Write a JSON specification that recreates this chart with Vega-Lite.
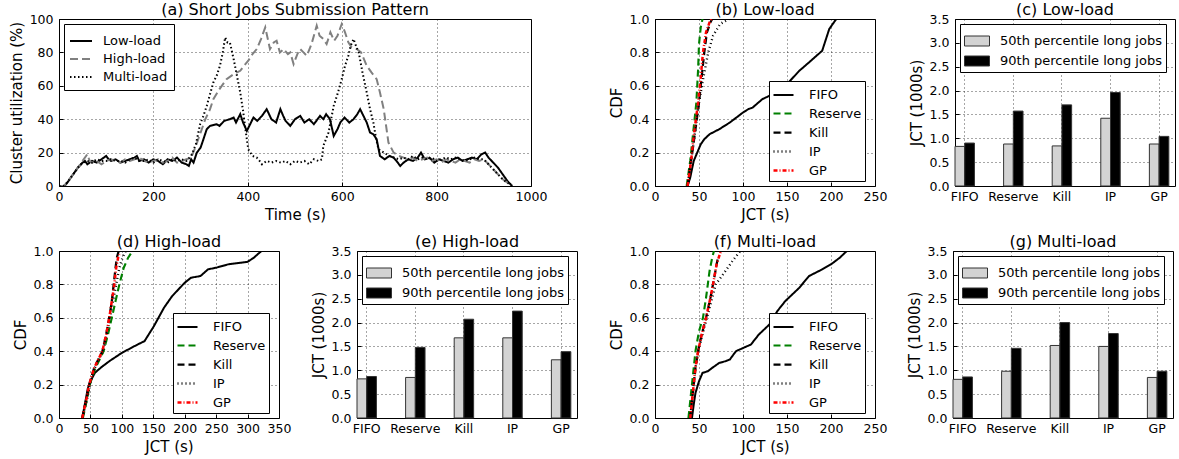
{
"$schema":"https://vega.github.io/schema/vega-lite/v6.json",
"background":"white",
"padding":{"left":8,"top":1,"right":0,"bottom":0},
"config":{
 "font":"DejaVu Sans",
 "view":{"stroke":"black","strokeWidth":1},
 "axis":{"domain":false,"labelFontSize":12.5,"labelColor":"black","titleFontSize":15,"titleFontWeight":"normal","titleColor":"black","grid":true,"gridColor":"black","gridDash":[1,3],"gridOpacity":0.7,"tickColor":"black","tickSize":-4,"labelFlush":false,"labelOverlap":false},
 "axisX":{"labelPadding":8,"titlePadding":5},
 "axisY":{"labelPadding":10,"titlePadding":5},
 "title":{"fontSize":16,"fontWeight":"normal","offset":-5,"color":"black","frame":"group"},
 "legend":{"labelFontSize":13,"labelColor":"black","strokeColor":"black","fillColor":"white","cornerRadius":0,"labelLimit":300}
},
"datasets":{
 "util":[
{"g":"Low-load","t":0,"u":0},{"g":"Low-load","t":10,"u":0},{"g":"Low-load","t":15,"u":1},{"g":"Low-load","t":20,"u":3},{"g":"Low-load","t":30,"u":7},{"g":"Low-load","t":40,"u":11},{"g":"Low-load","t":50,"u":14},{"g":"Low-load","t":55,"u":15},{"g":"Low-load","t":60,"u":13},{"g":"Low-load","t":70,"u":15},{"g":"Low-load","t":80,"u":14},{"g":"Low-load","t":90,"u":16},{"g":"Low-load","t":100,"u":18},{"g":"Low-load","t":105,"u":16},{"g":"Low-load","t":110,"u":15},{"g":"Low-load","t":120,"u":16},{"g":"Low-load","t":130,"u":14},{"g":"Low-load","t":140,"u":15},{"g":"Low-load","t":150,"u":16},{"g":"Low-load","t":160,"u":17},{"g":"Low-load","t":165,"u":18},{"g":"Low-load","t":170,"u":15},{"g":"Low-load","t":180,"u":16},{"g":"Low-load","t":190,"u":14},{"g":"Low-load","t":200,"u":16},{"g":"Low-load","t":210,"u":15},{"g":"Low-load","t":220,"u":13},{"g":"Low-load","t":230,"u":16},{"g":"Low-load","t":240,"u":15},{"g":"Low-load","t":250,"u":17},{"g":"Low-load","t":260,"u":14},{"g":"Low-load","t":270,"u":13},{"g":"Low-load","t":275,"u":12},{"g":"Low-load","t":280,"u":16},{"g":"Low-load","t":285,"u":14},{"g":"Low-load","t":292,"u":20},{"g":"Low-load","t":300,"u":23},{"g":"Low-load","t":306,"u":28},{"g":"Low-load","t":313,"u":34},{"g":"Low-load","t":320,"u":36},{"g":"Low-load","t":334,"u":37},{"g":"Low-load","t":340,"u":36},{"g":"Low-load","t":350,"u":39},{"g":"Low-load","t":362,"u":40},{"g":"Low-load","t":370,"u":41},{"g":"Low-load","t":375,"u":38},{"g":"Low-load","t":384,"u":43},{"g":"Low-load","t":390,"u":38},{"g":"Low-load","t":398,"u":33},{"g":"Low-load","t":405,"u":37},{"g":"Low-load","t":412,"u":41},{"g":"Low-load","t":420,"u":39},{"g":"Low-load","t":430,"u":42},{"g":"Low-load","t":440,"u":46},{"g":"Low-load","t":450,"u":40},{"g":"Low-load","t":460,"u":38},{"g":"Low-load","t":469,"u":46},{"g":"Low-load","t":475,"u":42},{"g":"Low-load","t":480,"u":39},{"g":"Low-load","t":490,"u":36},{"g":"Low-load","t":500,"u":40},{"g":"Low-load","t":511,"u":42},{"g":"Low-load","t":520,"u":38},{"g":"Low-load","t":530,"u":40},{"g":"Low-load","t":540,"u":37},{"g":"Low-load","t":553,"u":42},{"g":"Low-load","t":560,"u":40},{"g":"Low-load","t":566,"u":43},{"g":"Low-load","t":574,"u":40},{"g":"Low-load","t":582,"u":30},{"g":"Low-load","t":590,"u":34},{"g":"Low-load","t":596,"u":38},{"g":"Low-load","t":605,"u":41},{"g":"Low-load","t":615,"u":38},{"g":"Low-load","t":624,"u":40},{"g":"Low-load","t":632,"u":43},{"g":"Low-load","t":638,"u":46},{"g":"Low-load","t":645,"u":42},{"g":"Low-load","t":652,"u":38},{"g":"Low-load","t":659,"u":32},{"g":"Low-load","t":666,"u":31},{"g":"Low-load","t":673,"u":28},{"g":"Low-load","t":680,"u":18},{"g":"Low-load","t":690,"u":16},{"g":"Low-load","t":700,"u":18},{"g":"Low-load","t":709,"u":17},{"g":"Low-load","t":715,"u":15},{"g":"Low-load","t":723,"u":12},{"g":"Low-load","t":730,"u":14},{"g":"Low-load","t":740,"u":16},{"g":"Low-load","t":750,"u":15},{"g":"Low-load","t":760,"u":17},{"g":"Low-load","t":767,"u":20},{"g":"Low-load","t":775,"u":16},{"g":"Low-load","t":785,"u":17},{"g":"Low-load","t":795,"u":14},{"g":"Low-load","t":805,"u":16},{"g":"Low-load","t":815,"u":15},{"g":"Low-load","t":825,"u":14},{"g":"Low-load","t":835,"u":16},{"g":"Low-load","t":845,"u":17},{"g":"Low-load","t":855,"u":15},{"g":"Low-load","t":865,"u":16},{"g":"Low-load","t":875,"u":17},{"g":"Low-load","t":885,"u":16},{"g":"Low-load","t":895,"u":19},{"g":"Low-load","t":903,"u":20},{"g":"Low-load","t":910,"u":17},{"g":"Low-load","t":920,"u":14},{"g":"Low-load","t":930,"u":11},{"g":"Low-load","t":940,"u":7},{"g":"Low-load","t":950,"u":3},{"g":"Low-load","t":960,"u":0},
{"g":"High-load","t":0,"u":0},{"g":"High-load","t":10,"u":0},{"g":"High-load","t":20,"u":3},{"g":"High-load","t":30,"u":7},{"g":"High-load","t":40,"u":11},{"g":"High-load","t":50,"u":15},{"g":"High-load","t":60,"u":19},{"g":"High-load","t":65,"u":15},{"g":"High-load","t":70,"u":14},{"g":"High-load","t":80,"u":15},{"g":"High-load","t":90,"u":13},{"g":"High-load","t":100,"u":15},{"g":"High-load","t":110,"u":16},{"g":"High-load","t":120,"u":15},{"g":"High-load","t":130,"u":14},{"g":"High-load","t":140,"u":16},{"g":"High-load","t":150,"u":15},{"g":"High-load","t":160,"u":16},{"g":"High-load","t":170,"u":17},{"g":"High-load","t":180,"u":15},{"g":"High-load","t":190,"u":14},{"g":"High-load","t":200,"u":15},{"g":"High-load","t":210,"u":16},{"g":"High-load","t":220,"u":14},{"g":"High-load","t":230,"u":15},{"g":"High-load","t":240,"u":17},{"g":"High-load","t":250,"u":14},{"g":"High-load","t":260,"u":15},{"g":"High-load","t":270,"u":16},{"g":"High-load","t":280,"u":17},{"g":"High-load","t":290,"u":24},{"g":"High-load","t":300,"u":32},{"g":"High-load","t":310,"u":40},{"g":"High-load","t":320,"u":46},{"g":"High-load","t":327,"u":52},{"g":"High-load","t":340,"u":58},{"g":"High-load","t":355,"u":64},{"g":"High-load","t":370,"u":67},{"g":"High-load","t":384,"u":69},{"g":"High-load","t":392,"u":72},{"g":"High-load","t":401,"u":75},{"g":"High-load","t":410,"u":79},{"g":"High-load","t":419,"u":82},{"g":"High-load","t":428,"u":88},{"g":"High-load","t":437,"u":95},{"g":"High-load","t":447,"u":82},{"g":"High-load","t":455,"u":86},{"g":"High-load","t":461,"u":87},{"g":"High-load","t":468,"u":80},{"g":"High-load","t":476,"u":82},{"g":"High-load","t":485,"u":79},{"g":"High-load","t":490,"u":80},{"g":"High-load","t":497,"u":73},{"g":"High-load","t":505,"u":79},{"g":"High-load","t":511,"u":82},{"g":"High-load","t":518,"u":80},{"g":"High-load","t":525,"u":78},{"g":"High-load","t":535,"u":85},{"g":"High-load","t":546,"u":96},{"g":"High-load","t":552,"u":90},{"g":"High-load","t":560,"u":88},{"g":"High-load","t":567,"u":85},{"g":"High-load","t":575,"u":92},{"g":"High-load","t":583,"u":87},{"g":"High-load","t":590,"u":90},{"g":"High-load","t":599,"u":97},{"g":"High-load","t":606,"u":92},{"g":"High-load","t":613,"u":86},{"g":"High-load","t":620,"u":83},{"g":"High-load","t":631,"u":82},{"g":"High-load","t":640,"u":80},{"g":"High-load","t":652,"u":72},{"g":"High-load","t":662,"u":68},{"g":"High-load","t":673,"u":64},{"g":"High-load","t":680,"u":56},{"g":"High-load","t":688,"u":46},{"g":"High-load","t":698,"u":26},{"g":"High-load","t":709,"u":20},{"g":"High-load","t":720,"u":18},{"g":"High-load","t":730,"u":17},{"g":"High-load","t":740,"u":16},{"g":"High-load","t":750,"u":17},{"g":"High-load","t":760,"u":15},{"g":"High-load","t":770,"u":16},{"g":"High-load","t":780,"u":17},{"g":"High-load","t":790,"u":15},{"g":"High-load","t":800,"u":16},{"g":"High-load","t":810,"u":14},{"g":"High-load","t":820,"u":16},{"g":"High-load","t":830,"u":15},{"g":"High-load","t":840,"u":14},{"g":"High-load","t":850,"u":16},{"g":"High-load","t":860,"u":15},{"g":"High-load","t":870,"u":14},{"g":"High-load","t":880,"u":16},{"g":"High-load","t":890,"u":15},{"g":"High-load","t":900,"u":16},{"g":"High-load","t":910,"u":13},{"g":"High-load","t":920,"u":10},{"g":"High-load","t":930,"u":7},{"g":"High-load","t":940,"u":4},{"g":"High-load","t":950,"u":2},{"g":"High-load","t":960,"u":0},
{"g":"Multi-load","t":0,"u":0},{"g":"Multi-load","t":10,"u":0},{"g":"Multi-load","t":20,"u":3},{"g":"Multi-load","t":30,"u":7},{"g":"Multi-load","t":40,"u":11},{"g":"Multi-load","t":50,"u":14},{"g":"Multi-load","t":60,"u":15},{"g":"Multi-load","t":70,"u":14},{"g":"Multi-load","t":80,"u":16},{"g":"Multi-load","t":90,"u":15},{"g":"Multi-load","t":100,"u":15},{"g":"Multi-load","t":110,"u":16},{"g":"Multi-load","t":120,"u":15},{"g":"Multi-load","t":130,"u":15},{"g":"Multi-load","t":140,"u":14},{"g":"Multi-load","t":150,"u":16},{"g":"Multi-load","t":160,"u":17},{"g":"Multi-load","t":170,"u":15},{"g":"Multi-load","t":180,"u":15},{"g":"Multi-load","t":190,"u":16},{"g":"Multi-load","t":200,"u":14},{"g":"Multi-load","t":210,"u":16},{"g":"Multi-load","t":220,"u":15},{"g":"Multi-load","t":230,"u":14},{"g":"Multi-load","t":240,"u":16},{"g":"Multi-load","t":250,"u":15},{"g":"Multi-load","t":260,"u":16},{"g":"Multi-load","t":270,"u":15},{"g":"Multi-load","t":280,"u":18},{"g":"Multi-load","t":290,"u":25},{"g":"Multi-load","t":299,"u":37},{"g":"Multi-load","t":306,"u":42},{"g":"Multi-load","t":313,"u":48},{"g":"Multi-load","t":320,"u":55},{"g":"Multi-load","t":327,"u":62},{"g":"Multi-load","t":334,"u":66},{"g":"Multi-load","t":341,"u":72},{"g":"Multi-load","t":347,"u":80},{"g":"Multi-load","t":352,"u":89},{"g":"Multi-load","t":357,"u":86},{"g":"Multi-load","t":362,"u":86},{"g":"Multi-load","t":370,"u":76},{"g":"Multi-load","t":377,"u":66},{"g":"Multi-load","t":384,"u":56},{"g":"Multi-load","t":390,"u":45},{"g":"Multi-load","t":394,"u":36},{"g":"Multi-load","t":401,"u":22},{"g":"Multi-load","t":410,"u":18},{"g":"Multi-load","t":419,"u":17},{"g":"Multi-load","t":425,"u":15},{"g":"Multi-load","t":430,"u":13},{"g":"Multi-load","t":440,"u":15},{"g":"Multi-load","t":450,"u":14},{"g":"Multi-load","t":460,"u":15},{"g":"Multi-load","t":470,"u":14},{"g":"Multi-load","t":480,"u":15},{"g":"Multi-load","t":490,"u":13},{"g":"Multi-load","t":500,"u":15},{"g":"Multi-load","t":510,"u":14},{"g":"Multi-load","t":520,"u":15},{"g":"Multi-load","t":530,"u":13},{"g":"Multi-load","t":540,"u":16},{"g":"Multi-load","t":550,"u":15},{"g":"Multi-load","t":557,"u":16},{"g":"Multi-load","t":560,"u":24},{"g":"Multi-load","t":571,"u":32},{"g":"Multi-load","t":582,"u":48},{"g":"Multi-load","t":590,"u":55},{"g":"Multi-load","t":599,"u":64},{"g":"Multi-load","t":606,"u":72},{"g":"Multi-load","t":613,"u":78},{"g":"Multi-load","t":618,"u":84},{"g":"Multi-load","t":624,"u":88},{"g":"Multi-load","t":629,"u":84},{"g":"Multi-load","t":635,"u":80},{"g":"Multi-load","t":643,"u":68},{"g":"Multi-load","t":652,"u":56},{"g":"Multi-load","t":659,"u":46},{"g":"Multi-load","t":666,"u":38},{"g":"Multi-load","t":672,"u":28},{"g":"Multi-load","t":677,"u":22},{"g":"Multi-load","t":688,"u":20},{"g":"Multi-load","t":700,"u":18},{"g":"Multi-load","t":710,"u":17},{"g":"Multi-load","t":720,"u":16},{"g":"Multi-load","t":730,"u":17},{"g":"Multi-load","t":740,"u":16},{"g":"Multi-load","t":750,"u":18},{"g":"Multi-load","t":760,"u":16},{"g":"Multi-load","t":770,"u":17},{"g":"Multi-load","t":780,"u":16},{"g":"Multi-load","t":790,"u":17},{"g":"Multi-load","t":800,"u":15},{"g":"Multi-load","t":810,"u":16},{"g":"Multi-load","t":820,"u":17},{"g":"Multi-load","t":830,"u":16},{"g":"Multi-load","t":840,"u":17},{"g":"Multi-load","t":850,"u":16},{"g":"Multi-load","t":860,"u":15},{"g":"Multi-load","t":870,"u":16},{"g":"Multi-load","t":880,"u":17},{"g":"Multi-load","t":890,"u":16},{"g":"Multi-load","t":900,"u":16},{"g":"Multi-load","t":910,"u":13},{"g":"Multi-load","t":920,"u":10},{"g":"Multi-load","t":930,"u":7},{"g":"Multi-load","t":940,"u":4},{"g":"Multi-load","t":950,"u":2},{"g":"Multi-load","t":960,"u":0}
 ],
 "cdfLow":[
{"p":"FIFO","x":37,"c":0},{"p":"FIFO","x":40,"c":0.05},{"p":"FIFO","x":44,"c":0.15},{"p":"FIFO","x":48,"c":0.2},{"p":"FIFO","x":52,"c":0.25},{"p":"FIFO","x":56,"c":0.28},{"p":"FIFO","x":62,"c":0.31},{"p":"FIFO","x":73,"c":0.34},{"p":"FIFO","x":85,"c":0.38},{"p":"FIFO","x":100,"c":0.44},{"p":"FIFO","x":106,"c":0.46},{"p":"FIFO","x":111,"c":0.47},{"p":"FIFO","x":122,"c":0.52},{"p":"FIFO","x":134,"c":0.55},{"p":"FIFO","x":150,"c":0.61},{"p":"FIFO","x":164,"c":0.69},{"p":"FIFO","x":175,"c":0.74},{"p":"FIFO","x":190,"c":0.81},{"p":"FIFO","x":198,"c":0.94},{"p":"FIFO","x":206,"c":1.0},
{"p":"Reserve","x":36,"c":0},{"p":"Reserve","x":40,"c":0.15},{"p":"Reserve","x":43,"c":0.3},{"p":"Reserve","x":47,"c":0.5},{"p":"Reserve","x":49,"c":0.7},{"p":"Reserve","x":50,"c":0.85},{"p":"Reserve","x":52,"c":0.95},{"p":"Reserve","x":54,"c":1.0},
{"p":"Kill","x":37,"c":0},{"p":"Kill","x":41,"c":0.15},{"p":"Kill","x":45,"c":0.3},{"p":"Kill","x":50,"c":0.5},{"p":"Kill","x":53,"c":0.65},{"p":"Kill","x":56,"c":0.8},{"p":"Kill","x":59,"c":0.92},{"p":"Kill","x":63,"c":0.98},{"p":"Kill","x":65,"c":1.0},
{"p":"IP","x":37,"c":0},{"p":"IP","x":41,"c":0.15},{"p":"IP","x":45,"c":0.3},{"p":"IP","x":50,"c":0.5},{"p":"IP","x":55,"c":0.65},{"p":"IP","x":60.5,"c":0.8},{"p":"IP","x":66,"c":0.9},{"p":"IP","x":74,"c":0.97},{"p":"IP","x":84,"c":1.0},
{"p":"GP","x":37,"c":0},{"p":"GP","x":41,"c":0.15},{"p":"GP","x":44,"c":0.3},{"p":"GP","x":49,"c":0.5},{"p":"GP","x":52,"c":0.65},{"p":"GP","x":54.5,"c":0.8},{"p":"GP","x":58,"c":0.92},{"p":"GP","x":62,"c":0.98},{"p":"GP","x":64,"c":1.0}
 ],
 "cdfHigh":[
{"p":"FIFO","x":37,"c":0},{"p":"FIFO","x":42,"c":0.1},{"p":"FIFO","x":46,"c":0.18},{"p":"FIFO","x":50,"c":0.22},{"p":"FIFO","x":57,"c":0.27},{"p":"FIFO","x":66,"c":0.3},{"p":"FIFO","x":80,"c":0.34},{"p":"FIFO","x":100,"c":0.39},{"p":"FIFO","x":115,"c":0.42},{"p":"FIFO","x":125,"c":0.44},{"p":"FIFO","x":136,"c":0.46},{"p":"FIFO","x":151,"c":0.55},{"p":"FIFO","x":167,"c":0.66},{"p":"FIFO","x":180,"c":0.73},{"p":"FIFO","x":200,"c":0.81},{"p":"FIFO","x":210,"c":0.84},{"p":"FIFO","x":225,"c":0.85},{"p":"FIFO","x":237,"c":0.89},{"p":"FIFO","x":250,"c":0.9},{"p":"FIFO","x":269,"c":0.92},{"p":"FIFO","x":290,"c":0.93},{"p":"FIFO","x":300,"c":0.935},{"p":"FIFO","x":310,"c":0.96},{"p":"FIFO","x":322,"c":1.0},
{"p":"Reserve","x":38,"c":0},{"p":"Reserve","x":45,"c":0.12},{"p":"Reserve","x":49,"c":0.2},{"p":"Reserve","x":58,"c":0.3},{"p":"Reserve","x":71,"c":0.4},{"p":"Reserve","x":78,"c":0.5},{"p":"Reserve","x":84,"c":0.6},{"p":"Reserve","x":90,"c":0.7},{"p":"Reserve","x":96,"c":0.8},{"p":"Reserve","x":103,"c":0.9},{"p":"Reserve","x":110,"c":0.96},{"p":"Reserve","x":117,"c":1.0},
{"p":"Kill","x":37,"c":0},{"p":"Kill","x":44,"c":0.12},{"p":"Kill","x":48,"c":0.2},{"p":"Kill","x":56,"c":0.3},{"p":"Kill","x":69,"c":0.4},{"p":"Kill","x":75,"c":0.5},{"p":"Kill","x":80,"c":0.6},{"p":"Kill","x":84,"c":0.7},{"p":"Kill","x":87,"c":0.8},{"p":"Kill","x":90,"c":0.9},{"p":"Kill","x":92,"c":0.96},{"p":"Kill","x":95,"c":1.0},
{"p":"IP","x":37,"c":0},{"p":"IP","x":45,"c":0.12},{"p":"IP","x":49,"c":0.2},{"p":"IP","x":57,"c":0.3},{"p":"IP","x":70,"c":0.4},{"p":"IP","x":76,"c":0.5},{"p":"IP","x":81,"c":0.6},{"p":"IP","x":86,"c":0.7},{"p":"IP","x":91,"c":0.8},{"p":"IP","x":96,"c":0.9},{"p":"IP","x":101,"c":0.96},{"p":"IP","x":106,"c":1.0},
{"p":"GP","x":37,"c":0},{"p":"GP","x":44,"c":0.12},{"p":"GP","x":48,"c":0.2},{"p":"GP","x":56,"c":0.3},{"p":"GP","x":69,"c":0.4},{"p":"GP","x":75,"c":0.5},{"p":"GP","x":80,"c":0.6},{"p":"GP","x":84,"c":0.7},{"p":"GP","x":88,"c":0.8},{"p":"GP","x":91,"c":0.9},{"p":"GP","x":94,"c":0.96},{"p":"GP","x":96,"c":0.98}
 ],
 "cdfMulti":[
{"p":"FIFO","x":42,"c":0},{"p":"FIFO","x":44,"c":0.08},{"p":"FIFO","x":46,"c":0.15},{"p":"FIFO","x":50,"c":0.22},{"p":"FIFO","x":54,"c":0.27},{"p":"FIFO","x":60,"c":0.28},{"p":"FIFO","x":65,"c":0.3},{"p":"FIFO","x":73,"c":0.33},{"p":"FIFO","x":80,"c":0.34},{"p":"FIFO","x":85,"c":0.35},{"p":"FIFO","x":92,"c":0.4},{"p":"FIFO","x":109,"c":0.44},{"p":"FIFO","x":118,"c":0.5},{"p":"FIFO","x":130,"c":0.56},{"p":"FIFO","x":139,"c":0.64},{"p":"FIFO","x":148,"c":0.7},{"p":"FIFO","x":164,"c":0.78},{"p":"FIFO","x":175,"c":0.85},{"p":"FIFO","x":190,"c":0.89},{"p":"FIFO","x":200,"c":0.92},{"p":"FIFO","x":210,"c":0.96},{"p":"FIFO","x":218,"c":1.0},
{"p":"Reserve","x":38,"c":0},{"p":"Reserve","x":41,"c":0.15},{"p":"Reserve","x":44,"c":0.3},{"p":"Reserve","x":46,"c":0.4},{"p":"Reserve","x":50,"c":0.52},{"p":"Reserve","x":54.5,"c":0.6},{"p":"Reserve","x":58,"c":0.72},{"p":"Reserve","x":62,"c":0.88},{"p":"Reserve","x":65,"c":0.96},{"p":"Reserve","x":67,"c":1.0},
{"p":"Kill","x":40,"c":0},{"p":"Kill","x":43,"c":0.15},{"p":"Kill","x":46,"c":0.3},{"p":"Kill","x":49,"c":0.4},{"p":"Kill","x":53,"c":0.5},{"p":"Kill","x":58,"c":0.6},{"p":"Kill","x":63,"c":0.72},{"p":"Kill","x":67,"c":0.83},{"p":"Kill","x":70,"c":0.92},{"p":"Kill","x":72,"c":0.97},
{"p":"IP","x":40,"c":0},{"p":"IP","x":43,"c":0.15},{"p":"IP","x":46,"c":0.3},{"p":"IP","x":49,"c":0.4},{"p":"IP","x":54,"c":0.5},{"p":"IP","x":59,"c":0.6},{"p":"IP","x":64,"c":0.7},{"p":"IP","x":69,"c":0.8},{"p":"IP","x":80,"c":0.88},{"p":"IP","x":88,"c":0.94},{"p":"IP","x":97,"c":1.0},
{"p":"GP","x":40,"c":0},{"p":"GP","x":43,"c":0.15},{"p":"GP","x":46,"c":0.3},{"p":"GP","x":49,"c":0.4},{"p":"GP","x":53,"c":0.5},{"p":"GP","x":58,"c":0.6},{"p":"GP","x":63,"c":0.72},{"p":"GP","x":67,"c":0.83},{"p":"GP","x":70,"c":0.92},{"p":"GP","x":73,"c":0.97},{"p":"GP","x":75,"c":1.0}
 ],
 "barLow":[
{"m":"FIFO","s":"50th percentile long jobs","v":0.83},{"m":"FIFO","s":"90th percentile long jobs","v":0.9},
{"m":"Reserve","s":"50th percentile long jobs","v":0.88},{"m":"Reserve","s":"90th percentile long jobs","v":1.57},
{"m":"Kill","s":"50th percentile long jobs","v":0.84},{"m":"Kill","s":"90th percentile long jobs","v":1.7},
{"m":"IP","s":"50th percentile long jobs","v":1.42},{"m":"IP","s":"90th percentile long jobs","v":1.96},
{"m":"GP","s":"50th percentile long jobs","v":0.88},{"m":"GP","s":"90th percentile long jobs","v":1.04}
 ],
 "barHigh":[
{"m":"FIFO","s":"50th percentile long jobs","v":0.82},{"m":"FIFO","s":"90th percentile long jobs","v":0.87},
{"m":"Reserve","s":"50th percentile long jobs","v":0.85},{"m":"Reserve","s":"90th percentile long jobs","v":1.48},
{"m":"Kill","s":"50th percentile long jobs","v":1.68},{"m":"Kill","s":"90th percentile long jobs","v":2.07},
{"m":"IP","s":"50th percentile long jobs","v":1.68},{"m":"IP","s":"90th percentile long jobs","v":2.24},
{"m":"GP","s":"50th percentile long jobs","v":1.22},{"m":"GP","s":"90th percentile long jobs","v":1.39}
 ],
 "barMulti":[
{"m":"FIFO","s":"50th percentile long jobs","v":0.81},{"m":"FIFO","s":"90th percentile long jobs","v":0.86},
{"m":"Reserve","s":"50th percentile long jobs","v":0.98},{"m":"Reserve","s":"90th percentile long jobs","v":1.46},
{"m":"Kill","s":"50th percentile long jobs","v":1.52},{"m":"Kill","s":"90th percentile long jobs","v":2.0},
{"m":"IP","s":"50th percentile long jobs","v":1.5},{"m":"IP","s":"90th percentile long jobs","v":1.77},
{"m":"GP","s":"50th percentile long jobs","v":0.85},{"m":"GP","s":"90th percentile long jobs","v":0.98}
 ]
},
"spacing":10,
"resolve":{"scale":{"color":"independent","strokeDash":"independent","strokeWidth":"independent","fill":"independent"},"legend":{"color":"independent","strokeDash":"independent","strokeWidth":"independent","fill":"independent"}},
"vconcat":[
{
 "bounds":"flush","spacing":30,
 "resolve":{"scale":{"color":"independent","strokeDash":"independent","strokeWidth":"independent","fill":"independent"},"legend":{"color":"independent","strokeDash":"independent","strokeWidth":"independent","fill":"independent"}},
 "hconcat":[
 {
  "width":472,"height":167,"title":"(a) Short Jobs Submission Pattern",
  "data":{"name":"util"},
  "mark":{"type":"line","clip":true},
  "encoding":{
   "x":{"field":"t","type":"quantitative","scale":{"domain":[0,1000],"nice":false},"axis":{"values":[0,200,400,600,800,1000],"format":"d","title":"Time (s)"}},
   "y":{"field":"u","type":"quantitative","scale":{"domain":[0,100],"nice":false},"axis":{"values":[0,20,40,60,80,100],"title":"Cluster utilization (%)"}},
   "color":{"field":"g","type":"nominal","scale":{"domain":["Low-load","High-load","Multi-load"],"range":["black","#808080","black"]},"legend":{"title":null,"orient":"top-left","offset":5,"symbolType":"M-1.1,0H1.1","symbolSize":400,"labelOffset":11,"padding":6,"rowPadding":0}},
   "strokeDash":{"field":"g","type":"nominal","scale":{"domain":["Low-load","High-load","Multi-load"],"range":[[1,0],[8,4],[1.5,2.5]]},"legend":{"title":null,"orient":"top-left","offset":5,"symbolType":"M-1.1,0H1.1","symbolSize":400,"labelOffset":11,"padding":6,"rowPadding":0}},
   "strokeWidth":{"field":"g","type":"nominal","scale":{"domain":["Low-load","High-load","Multi-load"],"range":[2,2,1.5]},"legend":{"title":null,"orient":"top-left","offset":5,"symbolType":"M-1.1,0H1.1","symbolSize":400,"labelOffset":11,"padding":6,"rowPadding":0}}
  }
 },
 {"width":64,"height":167,"view":{"stroke":null},"data":{"values":[{"a":0}]},"mark":{"type":"point","opacity":0},"encoding":{}},
 {
  "width":220,"height":167,"title":"(b) Low-load",
  "data":{"name":"cdfLow"},
  "mark":{"type":"line","clip":true},
  "encoding":{
   "x":{"field":"x","type":"quantitative","scale":{"domain":[0,250],"nice":false},"axis":{"values":[0,50,100,150,200,250],"title":"JCT (s)"}},
   "y":{"field":"c","type":"quantitative","scale":{"domain":[0,1],"nice":false},"axis":{"values":[0,0.2,0.4,0.6,0.8,1],"format":".1f","title":"CDF"}},
   "color":{"field":"p","type":"nominal","scale":{"domain":["FIFO","Reserve","Kill","IP","GP"],"range":["black","#008000","black","black","#ff0000"]},"legend":{"title":null,"orient":"none","legendX":114,"legendY":62,"symbolType":"stroke","symbolSize":400,"labelOffset":14,"padding":3,"rowPadding":0}},
   "strokeDash":{"field":"p","type":"nominal","scale":{"domain":["FIFO","Reserve","Kill","IP","GP"],"range":[[1,0],[7,4],[7,4],[1,3],[4,2,1,2]]},"legend":{"title":null,"orient":"none","legendX":114,"legendY":62,"symbolType":"stroke","symbolSize":400,"labelOffset":14,"padding":3,"rowPadding":0}},
   "strokeWidth":{"field":"p","type":"nominal","scale":{"domain":["FIFO","Reserve","Kill","IP","GP"],"range":[2,2.5,2,1.3,2]},"legend":{"title":null,"orient":"none","legendX":114,"legendY":62,"symbolType":"stroke","symbolSize":400,"labelOffset":14,"padding":3,"rowPadding":0}}
  }
 },
 {"width":20,"height":167,"view":{"stroke":null},"data":{"values":[{"a":0}]},"mark":{"type":"point","opacity":0},"encoding":{}},
 {
  "width":220,"height":167,"title":"(c) Low-load",
  "data":{"name":"barLow"},
  "mark":{"type":"bar","stroke":"#333","strokeWidth":1},
  "encoding":{
   "x":{"field":"m","type":"nominal","sort":["FIFO","Reserve","Kill","IP","GP"],"scale":{"paddingInner":0.6,"paddingOuter":0.0635,"align":0},"axis":{"title":null,"labelAngle":0,"bandPosition":0.5}},
   "xOffset":{"field":"s","type":"nominal","scale":{"paddingInner":0,"paddingOuter":0}},
   "y":{"field":"v","type":"quantitative","scale":{"domain":[0,3.5],"nice":false},"axis":{"values":[0,0.5,1,1.5,2,2.5,3,3.5],"format":".1f","title":"JCT (1000s)"}},
   "fill":{"field":"s","type":"nominal","scale":{"domain":["50th percentile long jobs","90th percentile long jobs"],"range":["#d3d3d3","black"]},"legend":{"title":null,"orient":"top-left","offset":5,"symbolType":"M-1,-0.4H1V0.4H-1Z","symbolSize":625,"symbolStrokeColor":"#333","symbolStrokeWidth":1,"labelOffset":10,"padding":4,"rowPadding":-3}}
  }
 }
 ]
},
{
 "bounds":"flush","spacing":78,
 "resolve":{"scale":{"color":"independent","strokeDash":"independent","strokeWidth":"independent","fill":"independent"},"legend":{"color":"independent","strokeDash":"independent","strokeWidth":"independent","fill":"independent"}},
 "hconcat":[
 {
  "width":220,"height":167,"title":"(d) High-load",
  "data":{"name":"cdfHigh"},
  "mark":{"type":"line","clip":true},
  "encoding":{
   "x":{"field":"x","type":"quantitative","scale":{"domain":[0,350],"nice":false},"axis":{"values":[0,50,100,150,200,250,300,350],"title":"JCT (s)"}},
   "y":{"field":"c","type":"quantitative","scale":{"domain":[0,1],"nice":false},"axis":{"values":[0,0.2,0.4,0.6,0.8,1],"format":".1f","title":"CDF"}},
   "color":{"field":"p","type":"nominal","scale":{"domain":["FIFO","Reserve","Kill","IP","GP"],"range":["black","#008000","black","black","#ff0000"]},"legend":{"title":null,"orient":"none","legendX":114,"legendY":62,"symbolType":"stroke","symbolSize":400,"labelOffset":14,"padding":3,"rowPadding":0}},
   "strokeDash":{"field":"p","type":"nominal","scale":{"domain":["FIFO","Reserve","Kill","IP","GP"],"range":[[1,0],[7,4],[7,4],[1,3],[4,2,1,2]]},"legend":{"title":null,"orient":"none","legendX":114,"legendY":62,"symbolType":"stroke","symbolSize":400,"labelOffset":14,"padding":3,"rowPadding":0}},
   "strokeWidth":{"field":"p","type":"nominal","scale":{"domain":["FIFO","Reserve","Kill","IP","GP"],"range":[2,2.5,2,1.3,2]},"legend":{"title":null,"orient":"none","legendX":114,"legendY":62,"symbolType":"stroke","symbolSize":400,"labelOffset":14,"padding":3,"rowPadding":0}}
  }
 },
 {
  "width":220,"height":167,"title":"(e) High-load",
  "data":{"name":"barHigh"},
  "mark":{"type":"bar","stroke":"#333","strokeWidth":1},
  "encoding":{
   "x":{"field":"m","type":"nominal","sort":["FIFO","Reserve","Kill","IP","GP"],"scale":{"paddingInner":0.6,"paddingOuter":0.0635,"align":0},"axis":{"title":null,"labelAngle":0,"bandPosition":0.5}},
   "xOffset":{"field":"s","type":"nominal","scale":{"paddingInner":0,"paddingOuter":0}},
   "y":{"field":"v","type":"quantitative","scale":{"domain":[0,3.5],"nice":false},"axis":{"values":[0,0.5,1,1.5,2,2.5,3,3.5],"format":".1f","title":"JCT (1000s)"}},
   "fill":{"field":"s","type":"nominal","scale":{"domain":["50th percentile long jobs","90th percentile long jobs"],"range":["#d3d3d3","black"]},"legend":{"title":null,"orient":"top-left","offset":5,"symbolType":"M-1,-0.4H1V0.4H-1Z","symbolSize":625,"symbolStrokeColor":"#333","symbolStrokeWidth":1,"labelOffset":10,"padding":4,"rowPadding":-3}}
  }
 },
 {
  "width":220,"height":167,"title":"(f) Multi-load",
  "data":{"name":"cdfMulti"},
  "mark":{"type":"line","clip":true},
  "encoding":{
   "x":{"field":"x","type":"quantitative","scale":{"domain":[0,250],"nice":false},"axis":{"values":[0,50,100,150,200,250],"title":"JCT (s)"}},
   "y":{"field":"c","type":"quantitative","scale":{"domain":[0,1],"nice":false},"axis":{"values":[0,0.2,0.4,0.6,0.8,1],"format":".1f","title":"CDF"}},
   "color":{"field":"p","type":"nominal","scale":{"domain":["FIFO","Reserve","Kill","IP","GP"],"range":["black","#008000","black","black","#ff0000"]},"legend":{"title":null,"orient":"none","legendX":114,"legendY":62,"symbolType":"stroke","symbolSize":400,"labelOffset":14,"padding":3,"rowPadding":0}},
   "strokeDash":{"field":"p","type":"nominal","scale":{"domain":["FIFO","Reserve","Kill","IP","GP"],"range":[[1,0],[7,4],[7,4],[1,3],[4,2,1,2]]},"legend":{"title":null,"orient":"none","legendX":114,"legendY":62,"symbolType":"stroke","symbolSize":400,"labelOffset":14,"padding":3,"rowPadding":0}},
   "strokeWidth":{"field":"p","type":"nominal","scale":{"domain":["FIFO","Reserve","Kill","IP","GP"],"range":[2,2.5,2,1.3,2]},"legend":{"title":null,"orient":"none","legendX":114,"legendY":62,"symbolType":"stroke","symbolSize":400,"labelOffset":14,"padding":3,"rowPadding":0}}
  }
 },
 {
  "width":220,"height":167,"title":"(g) Multi-load",
  "data":{"name":"barMulti"},
  "mark":{"type":"bar","stroke":"#333","strokeWidth":1},
  "encoding":{
   "x":{"field":"m","type":"nominal","sort":["FIFO","Reserve","Kill","IP","GP"],"scale":{"paddingInner":0.6,"paddingOuter":0.0635,"align":0},"axis":{"title":null,"labelAngle":0,"bandPosition":0.5}},
   "xOffset":{"field":"s","type":"nominal","scale":{"paddingInner":0,"paddingOuter":0}},
   "y":{"field":"v","type":"quantitative","scale":{"domain":[0,3.5],"nice":false},"axis":{"values":[0,0.5,1,1.5,2,2.5,3,3.5],"format":".1f","title":"JCT (1000s)"}},
   "fill":{"field":"s","type":"nominal","scale":{"domain":["50th percentile long jobs","90th percentile long jobs"],"range":["#d3d3d3","black"]},"legend":{"title":null,"orient":"top-left","offset":5,"symbolType":"M-1,-0.4H1V0.4H-1Z","symbolSize":625,"symbolStrokeColor":"#333","symbolStrokeWidth":1,"labelOffset":10,"padding":4,"rowPadding":-3}}
  }
 }
 ]
}
]
}
